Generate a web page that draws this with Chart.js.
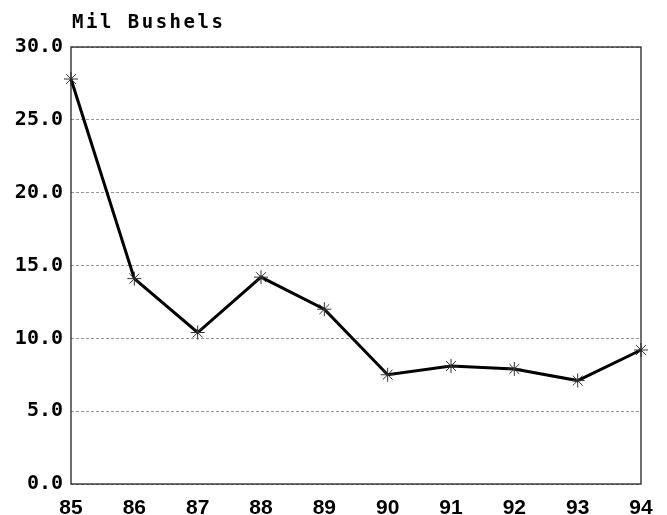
<!DOCTYPE html>
<html>
<head>
<meta charset="utf-8">
<script src="https://cdn.jsdelivr.net/npm/chart.js@4.4.0/dist/chart.umd.min.js"></script>
<style>
  html, body { margin: 0; padding: 0; background: #fff; }
  #wrap { width: 667px; height: 515px; }
</style>
</head>
<body>
<div id="wrap"><canvas id="chart" width="667" height="515"></canvas></div>
<script>
// data
const years = ['85', '86', '87', '88', '89', '90', '91', '92', '93', '94'];
const bushels = [27.8, 14.1, 10.4, 14.2, 12.0, 7.5, 8.1, 7.9, 7.1, 9.2];
const unitLabel = 'Mil Bushels';

const monoFont = '"DejaVu Sans Mono", monospace';
const sansFont = '"Liberation Sans", Arial, sans-serif';

// draws the frame and the unit label above the plot
const framePlugin = {
    id: 'frame',
    afterDraw(chart) {
        const { ctx, chartArea } = chart;
        ctx.save();
        ctx.strokeStyle = '#222';
        ctx.lineWidth = 1.3;
        ctx.strokeRect(chartArea.left, chartArea.top, chartArea.right - chartArea.left, chartArea.bottom - chartArea.top);
        ctx.fillStyle = '#000';
        ctx.font = 'bold 19px ' + monoFont;
        ctx.textBaseline = 'alphabetic';
        ctx.textAlign = 'left';
        if ('letterSpacing' in ctx) ctx.letterSpacing = '2.5px';
        ctx.fillText(unitLabel, chartArea.left + 1, 28);
        ctx.restore();
    }
};

new Chart(document.getElementById('chart'), {
    type: 'line',
    data: {
        labels: years,
        datasets: [{
            data: bushels,
            borderColor: '#000',
            borderWidth: 3,
            tension: 0,
            pointStyle: 'star',
            pointRadius: 7,
            pointBorderWidth: 1,
            pointBorderColor: '#333',
            pointBackgroundColor: '#333'
        }]
    },
    options: {
        responsive: false,
        animation: false,
        layout: { padding: { left: 0, top: 47, right: 26, bottom: 0 } },
        plugins: {
            legend: { display: false },
            tooltip: { enabled: false }
        },
        scales: {
            x: {
                offset: false,
                grid: { display: false },
                border: { display: false },
                ticks: {
                    color: '#000',
                    padding: 4,
                    maxRotation: 0,
                    font: { family: sansFont, size: 21, weight: 'bold' }
                },
                afterFit(axis) { axis.height = 31; }
            },
            y: {
                min: 0,
                max: 30,
                grid: {
                    color: '#999',
                    lineWidth: 1,
                    drawTicks: false
                },
                border: { display: false, dash: [3, 2] },
                ticks: {
                    stepSize: 5,
                    color: '#000',
                    padding: 8,
                    font: { family: monoFont, size: 20, weight: 'bold' },
                    callback: v => v.toFixed(1)
                },
                afterFit(axis) { axis.width = 71; }
            }
        }
    },
    plugins: [framePlugin]
});
</script>
</body>
</html>
